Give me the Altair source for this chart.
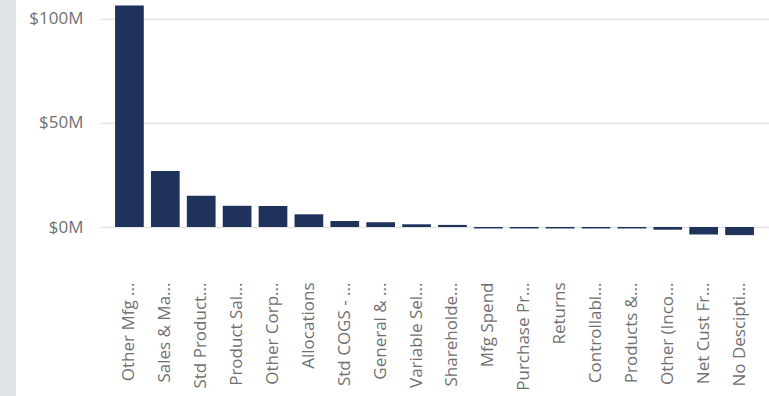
import altair as alt
import pandas as pd

categories = ["Other Mfg ...", "Sales  & Ma...", "Std Product...", "Product Sal...",
              "Other Corp...", "Allocations", "Std COGS - ...", "General & ...",
              "Variable Sel...", "Shareholde...", "Mfg Spend", "Purchase Pr...",
              "Returns", "Controllabl...", "Products &...", "Other (Inco...",
              "Net Cust Fr...", "No Descipti..."]
values_m = [106.4, 26.9, 15.0, 10.2, 10.1, 6.1, 2.9, 2.3, 1.3, 1.0,
            -0.7, -0.7, -0.7, -0.7, -0.7, -1.3, -3.6, -3.9]
y_ticks = [0, 50, 100]

df = pd.DataFrame({"cat": categories, "val": values_m})
FONT = "Open Sans"

bars = alt.Chart(df).mark_bar(color="#1f325c").encode(
    x=alt.X("cat:N", sort=categories, title=None,
            scale=alt.Scale(paddingInner=0.2, paddingOuter=0.42),
            axis=alt.Axis(labelAngle=-90, labelAlign="right", labelBaseline="middle",
                          ticks=False, domain=False, labelPadding=37,
                          labelFontSize=17, labelColor="#707070", labelFont=FONT,
                          labelLimit=300)),
    y=alt.Y("val:Q", title=None,
            scale=alt.Scale(domain=[-8.65, 109.1], nice=False, zero=False),
            axis=alt.Axis(values=y_ticks, labelExpr="'$' + datum.value + 'M'",
                          ticks=False, domain=False, labelPadding=17,
                          labelFontSize=17, labelColor="#707070", labelFont=FONT,
                          gridColor="#e4e4e4", gridWidth=1.5)),
)

strip = alt.Chart(pd.DataFrame({"a": [1]})).mark_rect(color="#dfe3e8").encode(
    x=alt.value(-100), x2=alt.value(-84), y=alt.value(0), y2=alt.value(396)
)

chart = alt.layer(strip, bars).properties(
    width=669, height=245,
    padding={"left": 100, "top": 0, "right": 0, "bottom": 151},
    autosize=alt.AutoSizeParams(type="none"),
    background="white",
).configure_view(stroke=None)

chart.save("out.html", embed_options={"renderer": "svg", "actions": False})
